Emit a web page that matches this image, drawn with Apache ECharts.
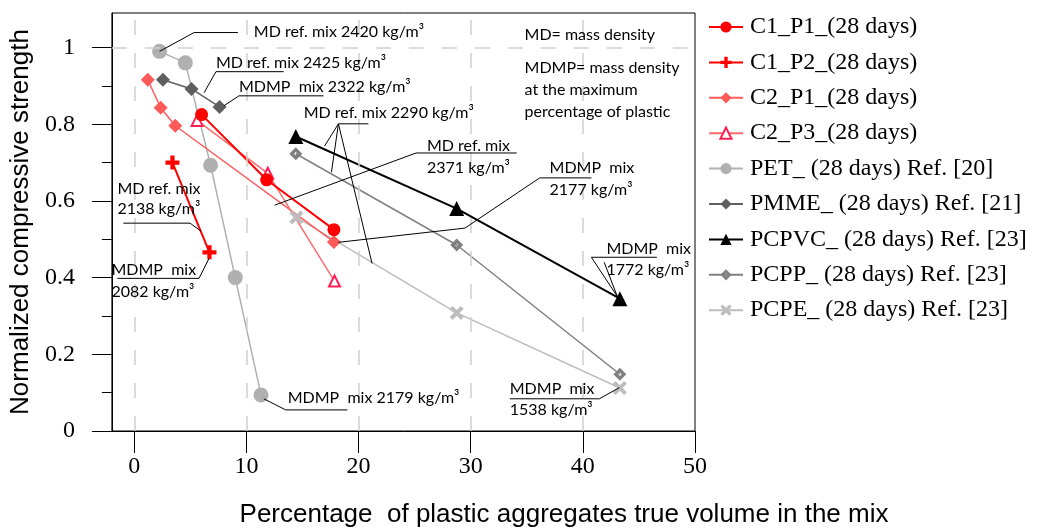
<!DOCTYPE html>
<html>
<head>
<meta charset="utf-8">
<script src="https://cdn.jsdelivr.net/npm/echarts@6/dist/echarts.min.js"></script>
<style>
  html, body { margin: 0; padding: 0; background: #fff; }
  #chart { width: 1045px; height: 530px; }
</style>
</head>
<body>
<div id="chart"></div>
<script>
// series values [plastic %, normalized strength]
const c1p1 = [[6.0, 0.825], [11.8, 0.655], [17.8, 0.525]];
const c1p2 = [[3.4, 0.70], [6.7, 0.466]];
const c2p1 = [[1.2, 0.916], [2.35, 0.843], [3.65, 0.796], [17.8, 0.493]];
const c2p3 = [[5.6, 0.81], [11.9, 0.672], [17.85, 0.391]];
const pet = [[2.25, 0.99], [4.55, 0.96], [6.8, 0.693], [9.0, 0.40], [11.3, 0.094]];
const pmme = [[2.55, 0.916], [5.1, 0.892], [7.6, 0.845]];
const pcpvc = [[14.4, 0.768], [28.75, 0.58], [43.3, 0.345]];
const pcpp = [[14.4, 0.723], [28.75, 0.485], [43.3, 0.148]];
const pcpe = [[14.45, 0.557], [28.75, 0.308], [43.3, 0.112]];

const names = [
  'C1_P1_(28 days)', 'C1_P2_(28 days)', 'C2_P1_(28 days)', 'C2_P3_(28 days)',
  'PET_ (28 days) Ref. [20]', 'PMME_ (28 days) Ref. [21]', 'PCPVC_ (28 days) Ref. [23]',
  'PCPP_ (28 days) Ref. [23]', 'PCPE_ (28 days) Ref. [23]'
];

// ticks
const xTicks = [0, 10, 20, 30, 40, 50];
const yMajor = [0, 0.2, 0.4, 0.6, 0.8, 1];
const yMinor = [0.1, 0.3, 0.5, 0.7, 0.9];
const xGrid = [0, 10, 20, 30, 40];

// annotations (data coords): leader lines and text lines
const notes = [
  { lines: [[[2.25, 0.99], [5.33, 1.039], [9.24, 1.039]]],
    texts: [[10.66, 1.042, 'MD ref. mix 2420 kg/m³']] },
  { lines: [[[6.22, 0.882], [7.28, 0.937], [13.32, 0.937]]],
    texts: [[7.28, 0.961, 'MD ref. mix 2425 kg/m³']] },
  { lines: [[[7.99, 0.848], [9.33, 0.874], [16.87, 0.874]]],
    texts: [[9.33, 0.898, 'MDMP  mix 2322 kg/m³']] },
  { lines: [[[20.87, 0.801], [18.2, 0.801], [16.96, 0.743]],
            [[18.2, 0.801], [17.58, 0.675]],
            [[18.2, 0.801], [21.2, 0.437]]],
    texts: [[15.1, 0.830, 'MD ref. mix 2290 kg/m³']] },
  { lines: [[[34.1, 0.725], [25.13, 0.725], [12.52, 0.589]]],
    texts: [[26.1, 0.743, 'MD ref. mix'], [26.1, 0.686, '2371 kg/m³']] },
  { lines: [[[40.76, 0.660], [36.15, 0.660], [29.48, 0.529], [18.2, 0.492]]],
    texts: [[37.03, 0.686, 'MDMP  mix'], [37.03, 0.628, '2177 kg/m³']] },
  { lines: [[[46.6, 0.453], [40.76, 0.453], [43.07, 0.351]],
            [[41.9, 0.440], [43.07, 0.351]]],
    texts: [[42.1, 0.476, 'MDMP  mix'], [42.1, 0.421, '1772 kg/m³']] },
  { lines: [[[-0.98, 0.542], [4.97, 0.542], [5.95, 0.521]]],
    texts: [[-1.51, 0.631, 'MD ref. mix'], [-1.51, 0.579, '2138 kg/m³']] },
  { lines: [[[-1.51, 0.398], [5.77, 0.398], [6.66, 0.450]]],
    texts: [[-2.04, 0.421, 'MDMP  mix'], [-2.04, 0.364, '2082 kg/m³']] },
  { lines: [[[11.55, 0.084], [13.5, 0.055], [19.0, 0.055]]],
    texts: [[13.68, 0.086, 'MDMP  mix 2179 kg/m³']] },
  { lines: [[[43.25, 0.113], [41.47, 0.084], [33.48, 0.084]]],
    texts: [[33.48, 0.110, 'MDMP  mix'], [33.48, 0.055, '1538 kg/m³']] },
  { lines: [],
    texts: [[34.8, 1.034, 'MD= mass density'], [34.8, 0.948, 'MDMP= mass density'],
            [34.8, 0.890, 'at the maximum'], [34.8, 0.832, 'percentage of plastic']] }
];

const plusPath = 'path://M3.5,0h3v3.5h3.5v3h-3.5v3.5h-3v-3.5h-3.5v-3h3.5z';
const crossPath = 'path://M0,2L2,0L5,3L8,0L10,2L7,5L10,8L8,10L5,7L2,10L0,8L3,5Z';
// diamond with a small hole in the middle
const ringDiamond = 'path://M5,0L10,5L5,10L0,5ZM5,3.6L3.6,5L5,6.4L6.4,5Z';

function mkSeries(name, data, color, width, symbol, size, extra) {
  return Object.assign({
    name: name,
    type: 'line',
    data: data,
    symbol: symbol,
    symbolSize: size,
    showAllSymbol: true,
    lineStyle: { color: color, width: width },
    itemStyle: { color: color },
    z: 3
  }, extra || {});
}

const chart = echarts.init(document.getElementById('chart'));
chart.setOption({
  animation: false,
  backgroundColor: '#fff',
  textStyle: { color: '#000' },
  grid: { left: 110, top: 13, right: 350, bottom: 99, show: true, borderColor: '#000', borderWidth: 1 },
  legend: {
    orient: 'vertical',
    left: 703,
    top: 10,
    itemWidth: 34,
    itemHeight: 14,
    itemGap: 11.4,
    data: names,
    textStyle: { fontFamily: 'Liberation Serif', fontSize: 24, color: '#000', lineHeight: 24, padding: [0, 0, 0, 2] }
  },
  xAxis: {
    type: 'value',
    min: -2,
    max: 50,
    axisLine: { onZero: false, lineStyle: { color: '#000', width: 1 } },
    axisTick: { customValues: xTicks, length: 22, lineStyle: { color: '#000' } },
    axisLabel: { customValues: xTicks, margin: 24, fontFamily: 'Liberation Serif', fontSize: 24, color: '#000' },
    splitLine: { show: false }
  },
  yAxis: [{
    type: 'value',
    min: 0,
    max: 1.09,
    name: 'Normalized compressive strength',
    nameLocation: 'middle',
    nameGap: 55,
    nameTextStyle: { fontFamily: 'Liberation Sans', fontSize: 26, color: '#000' },
    axisLine: { show: true, onZero: false, lineStyle: { color: '#000' } },
    axisTick: { customValues: yMajor, length: 20, lineStyle: { color: '#000' } },
    axisLabel: { customValues: yMajor, margin: 37, fontFamily: 'Liberation Serif', fontSize: 24, color: '#000' },
    splitLine: { show: false }
  }, {
    type: 'value',
    min: 0,
    max: 1.09,
    position: 'left',
    axisLine: { show: false, onZero: false },
    axisTick: { show: true, customValues: yMinor, length: 10, lineStyle: { color: '#000' } },
    axisLabel: { show: false },
    splitLine: { show: false }
  }],
  series: [
    {
      name: 'grid',
      type: 'line',
      data: [],
      z: 1,
      silent: true,
      markLine: {
        silent: true,
        symbol: 'none',
        label: { show: false },
        lineStyle: { color: '#cfcfcf', width: 1.5, type: [15, 18] },
        data: xGrid.map(v => ({ xAxis: v })).concat([{ yAxis: 1 }])
      }
    },
    mkSeries(names[4], pet, '#b0b0b0', 1.5, 'circle', 15),
    mkSeries(names[5], pmme, '#5f5f5f', 1.5, 'diamond', 14),
    mkSeries(names[6], pcpvc, '#000000', 2, 'triangle', 15),
    mkSeries(names[7], pcpp, '#808080', 1.5, ringDiamond, 13),
    mkSeries(names[8], pcpe, '#bdbdbd', 1.5, crossPath, 14),
    mkSeries(names[2], c2p1, '#ff5a5a', 1.5, 'diamond', 14),
    mkSeries(names[3], c2p3, '#ff6b6b', 1.5, 'emptyTriangle', 11,
      { itemStyle: { color: '#ff1f55', borderWidth: 1.5 } }),
    mkSeries(names[0], c1p1, '#ff0000', 2, 'circle', 13),
    mkSeries(names[1], c1p2, '#ff0000', 2, plusPath, 14)
  ]
});

// annotation graphics placed from data coordinates
const toPx = p => chart.convertToPixel({ xAxisIndex: 0, yAxisIndex: 0 }, p);
const graphics = [];
notes.forEach(n => {
  n.lines.forEach(l => {
    graphics.push({
      type: 'polyline',
      silent: true,
      shape: { points: l.map(toPx) },
      style: { stroke: '#000', lineWidth: 1, fill: null },
      z: 10
    });
  });
  n.texts.forEach(t => {
    const p = toPx([t[0], t[1]]);
    graphics.push({
      type: 'text',
      silent: true,
      x: p[0],
      y: p[1],
      style: { text: t[2], font: '16px Lato', fill: '#000', align: 'left', verticalAlign: 'middle' },
      z: 10
    });
  });
});
graphics.push({
  type: 'text',
  silent: true,
  x: 564,
  y: 515,
  style: {
    text: 'Percentage  of plastic aggregates true volume in the mix',
    font: '26px "Liberation Sans"', fill: '#000', align: 'center', verticalAlign: 'middle'
  }
});
chart.setOption({ graphic: graphics });
</script>
</body>
</html>
